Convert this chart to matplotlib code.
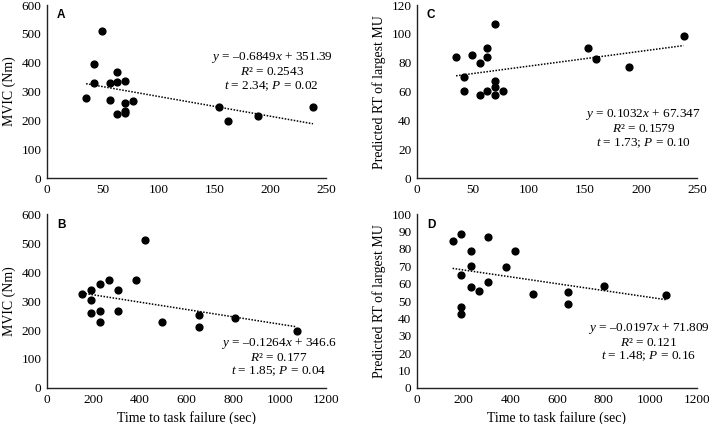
import matplotlib
matplotlib.use('Agg')
import matplotlib.pyplot as plt
import numpy as np

plt.rcParams['font.family'] = ['Liberation Serif', 'DejaVu Serif']
plt.rcParams['mathtext.fontset'] = 'custom'
plt.rcParams['mathtext.rm'] = 'Liberation Serif'
plt.rcParams['mathtext.it'] = 'Liberation Serif:italic'

# A: MVIC vs time (short task)
a_x = [35, 42, 42, 49, 56, 56, 63, 63, 63, 70, 70, 70, 70, 77, 154, 162, 189, 238]
a_y = [279, 330, 395, 510, 329, 271, 367, 332, 223, 336, 262, 232, 225, 269, 245, 197, 215, 245]
# B: MVIC vs time (long task)
b_x = [152, 189, 189, 189, 227, 227, 227, 267, 304, 304, 381, 419, 496, 652, 652, 806, 1072]
b_y = [326, 337, 302, 257, 359, 267, 229, 373, 339, 265, 371, 510, 229, 251, 212, 243, 197]
# C: predicted RT vs time (short task)
c_x = [35, 42, 42, 49, 56, 56, 63, 63, 63, 70, 70, 70, 70, 77, 153, 160, 189, 238]
c_y = [83.8, 70.2, 60.2, 85.4, 80.1, 57.7, 90, 84.2, 60.7, 106.8, 67.4, 63, 57.5, 60.7, 90, 82.4, 77.3, 98.8]
# D: predicted RT vs time (long task)
d_x = [153, 191, 191, 191, 191, 230, 230, 230, 267, 304, 304, 381, 419, 496, 649, 649, 801, 1069]
d_y = [84.8, 88.3, 64.7, 46.4, 42.4, 78.9, 70.2, 58, 55.9, 87.1, 61.2, 69.3, 78.9, 54.1, 55.1, 48.4, 58.9, 53.2]

fits = {
    'A': (-0.6849, 351.39),
    'B': (-0.1264, 346.6),
    'C': (0.1032, 67.347),
    'D': (-0.0197, 71.809),
}
stats = {
    'A': ['$y$ = –0.6849$x$ + 351.39', '$R$² = 0.2543', '$t$ = 2.34; $P$ = 0.02'],
    'B': ['$y$ = –0.1264$x$ + 346.6', '$R$² = 0.177', '$t$ = 1.85; $P$ = 0.04'],
    'C': ['$y$ = 0.1032$x$ + 67.347', '$R$² = 0.1579', '$t$ = 1.73; $P$ = 0.10'],
    'D': ['$y$ = –0.0197$x$ + 71.809', '$R$² = 0.121', '$t$ = 1.48; $P$ = 0.16'],
}

fig = plt.figure(figsize=(7.09, 4.24), dpi=100)
ax_a = fig.add_axes([0.0663, 0.580, 0.394, 0.408])
ax_c = fig.add_axes([0.588, 0.580, 0.395, 0.408])
ax_b = fig.add_axes([0.0663, 0.085, 0.394, 0.410])
ax_d = fig.add_axes([0.588, 0.085, 0.395, 0.410])

panels = [
    (ax_a, 'A', a_x, a_y, 250, 50, 600, 100, 'MVIC (Nm)', None, (201, 370)),
    (ax_c, 'C', c_x, c_y, 250, 50, 120, 20, 'Predicted RT of largest MU', None, (202, 34.5)),
    (ax_b, 'B', b_x, b_y, 1200, 200, 600, 100, 'MVIC (Nm)', 'Time to task failure (sec)', (996, 106)),
    (ax_d, 'D', d_x, d_y, 1200, 200, 100, 10, 'Predicted RT of largest MU', 'Time to task failure (sec)', (993, 26.3)),
]

for ax, tag, xs, ys, xmax, xstep, ymax, ystep, ylab, xlab, txt in panels:
    ax.scatter(xs, ys, s=24, color='black', zorder=3)
    m, b = fits[tag]
    xl = np.array([min(xs), max(xs)])
    ax.plot(xl, m * xl + b, color='black', linestyle=(0, (1, 1)), linewidth=1.1)
    ax.set_xlim(0, xmax)
    ax.set_ylim(0, ymax)
    ax.set_xticks(np.arange(0, xmax + 1, xstep))
    ax.set_yticks(np.arange(0, ymax + 1, ystep))
    ax.tick_params(length=0, labelsize=9.5, pad=4)
    for s in ['top', 'right']:
        ax.spines[s].set_visible(False)
    for s in ['left', 'bottom']:
        ax.spines[s].set_color('#222222')
        ax.spines[s].set_linewidth(1.0)
    ax.set_ylabel(ylab, fontsize=10)
    if xlab:
        ax.set_xlabel(xlab, fontsize=10)
    ax.text(0.036, 0.94, tag, transform=ax.transAxes, fontsize=8.5,
            fontweight='bold', family='Liberation Sans', va='center', ha='left')
    ax.text(txt[0], txt[1], '\n'.join(stats[tag]), ha='center', va='center',
            fontsize=9.5, linespacing=1.1)

fig.savefig('out.png', dpi=100)
